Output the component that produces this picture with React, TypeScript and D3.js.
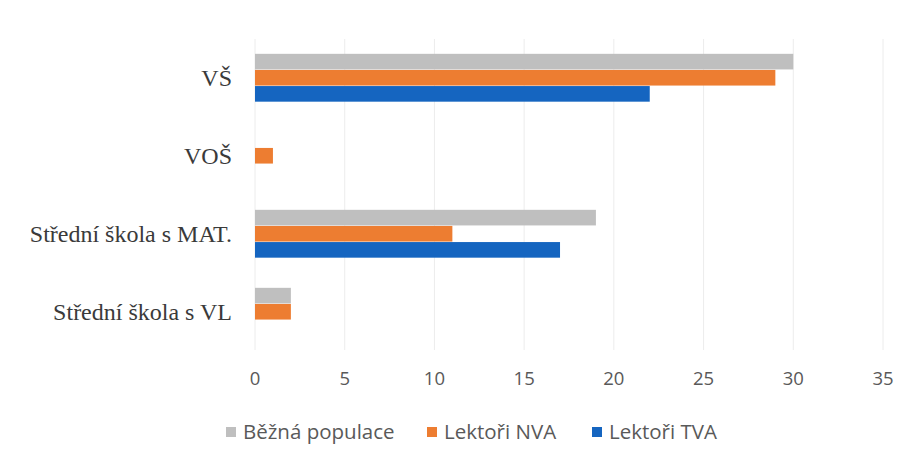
import React, { useRef, useEffect } from 'react'
import * as d3 from 'd3'

const categories = ['VŠ', 'VOŠ', 'Střední škola s MAT.', 'Střední škola s VL']
const seriesNames = ['Běžná populace', 'Lektoři NVA', 'Lektoři TVA']
const bezna = [30, 0, 19, 2]
const nva = [29, 1, 11, 2]
const tva = [22, 0, 17, 0]
const xTicks = [0, 5, 10, 15, 20, 25, 30, 35]
const colors = ['#bfbfbf', '#ed7d31', '#1565c0']

export default function App() {
    const svgRef = useRef<SVGSVGElement>(null)

    useEffect(() => {
        const w = 915
        const h = 463
        const svg = d3.select(svgRef.current)
        svg.selectAll('*').remove()

        const values = [bezna, nva, tva]

        // scales
        const x = d3.scaleLinear().domain([0, 35]).range([255, 883])
        const y = d3.scaleBand().domain(categories).range([39, 351]).paddingInner(0.38).paddingOuter(0.19)
        const inner = d3.scaleBand().domain(seriesNames).range([0, y.bandwidth()])

        // gridlines
        svg.append('g')
            .selectAll('line')
            .data(xTicks)
            .join('line')
                .attr('x1', d => x(d))
                .attr('x2', d => x(d))
                .attr('y1', 39)
                .attr('y2', 350)
                .attr('stroke', '#ececec')
                .attr('stroke-width', 1)

        // bars
        seriesNames.forEach((s, si) => {
            svg.append('g')
                .selectAll('rect')
                .data(categories)
                .join('rect')
                    .attr('x', x(0))
                    .attr('y', (c) => (y(c) as number) + (inner(s) as number))
                    .attr('width', (c, i) => x(values[si][i]) - x(0))
                    .attr('height', inner.bandwidth() - 0.5)
                    .attr('fill', colors[si])
        })

        // category labels
        svg.append('g')
            .selectAll('text')
            .data(categories)
            .join('text')
                .attr('x', 232)
                .attr('y', c => (y(c) as number) + y.bandwidth() / 2)
                .attr('dy', '0.35em')
                .attr('text-anchor', 'end')
                .attr('font-family', '"Liberation Serif", "DejaVu Serif", serif')
                .attr('font-size', 24)
                .attr('fill', '#3a3a3a')
                .text(c => c)

        // x tick labels
        svg.append('g')
            .selectAll('text')
            .data(xTicks)
            .join('text')
                .attr('x', d => x(d))
                .attr('y', 379)
                .attr('dy', '0.35em')
                .attr('text-anchor', 'middle')
                .attr('font-family', '"Open Sans", "Liberation Sans", sans-serif')
                .attr('font-size', 18.5)
                .attr('fill', '#595959')
                .text(d => d)

        // legend
        const legendX = [226, 427, 592]
        const lg = svg.append('g')
            .selectAll('g')
            .data(seriesNames)
            .join('g')
                .attr('transform', (d, i) => `translate(${legendX[i]}, 432)`)
        lg.append('rect')
            .attr('x', 0)
            .attr('y', -5)
            .attr('width', 10)
            .attr('height', 10)
            .attr('fill', (d, i) => colors[i])
        lg.append('text')
            .attr('x', 17)
            .attr('dy', '0.35em')
            .attr('font-family', '"Open Sans", "Liberation Sans", sans-serif')
            .attr('font-size', 20.5)
            .attr('fill', '#595959')
            .text(d => d)

        svg.attr('width', w).attr('height', h)
    }, [])

    return (
        <svg ref={svgRef} width={915} height={463}
            style={{ position: 'absolute', left: 0, top: 0, background: '#fff' }}></svg>
    )
}
